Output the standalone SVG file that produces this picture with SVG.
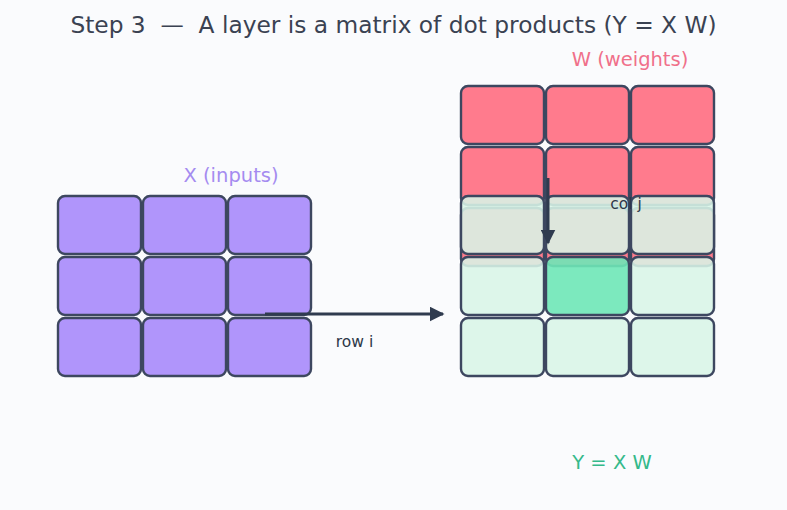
<svg xmlns="http://www.w3.org/2000/svg" width="787" height="510" viewBox="0 0 787 510">
<defs>
<style>
text{font-family:"DejaVu Sans","Liberation Sans",sans-serif;white-space:pre;}
.cell{stroke:#3d4760;stroke-width:2.4;}
.x{fill:#b095fb;}
.w{fill:#ff7b8d;}
.y{fill:#d8f5e7;fill-opacity:0.88;}
.yh{fill:#6ee7b7;fill-opacity:0.9;}
.lbl{font-size:19.5px;text-anchor:middle;}
.small{font-size:15.5px;fill:#2d3748;text-anchor:middle;}
.conn{stroke:#2f3b4f;stroke-width:3;fill:none;}
</style>
<marker id="ah" viewBox="0 0 10 10" refX="9" refY="5" markerWidth="5" markerHeight="5" orient="auto" markerUnits="strokeWidth">
<path d="M0,0 L10,5 L0,10 z" fill="#2f3b4f"/>
</marker>
</defs>
<rect width="787" height="510" fill="#fafbfd"/>
<text x="393.5" y="32.5" font-size="23.3" fill="#3a4252" text-anchor="middle" xml:space="preserve">Step 3  —  A layer is a matrix of dot products (Y = X W)</text>
<text class="lbl" x="630" y="66" fill="#f0708a">W (weights)</text>
<text class="lbl" x="231" y="182" fill="#a58bf0">X (inputs)</text>
<text class="lbl" x="612" y="469" fill="#34b98a">Y = X W</text>
<g id="X">
<rect class="cell x" x="58" y="196" width="83" height="58" rx="7"/>
<rect class="cell x" x="143" y="196" width="83" height="58" rx="7"/>
<rect class="cell x" x="228" y="196" width="83" height="58" rx="7"/>
<rect class="cell x" x="58" y="257" width="83" height="58" rx="7"/>
<rect class="cell x" x="143" y="257" width="83" height="58" rx="7"/>
<rect class="cell x" x="228" y="257" width="83" height="58" rx="7"/>
<rect class="cell x" x="58" y="318" width="83" height="58" rx="7"/>
<rect class="cell x" x="143" y="318" width="83" height="58" rx="7"/>
<rect class="cell x" x="228" y="318" width="83" height="58" rx="7"/>
</g>
<g id="W">
<rect class="cell w" x="461" y="86" width="83" height="58" rx="7"/>
<rect class="cell w" x="546" y="86" width="83" height="58" rx="7"/>
<rect class="cell w" x="631" y="86" width="83" height="58" rx="7"/>
<rect class="cell w" x="461" y="147" width="83" height="58" rx="7"/>
<rect class="cell w" x="546" y="147" width="83" height="58" rx="7"/>
<rect class="cell w" x="631" y="147" width="83" height="58" rx="7"/>
<rect class="cell w" x="461" y="208" width="83" height="58" rx="7"/>
<rect class="cell w" x="546" y="208" width="83" height="58" rx="7"/>
<rect class="cell w" x="631" y="208" width="83" height="58" rx="7"/>
</g>
<g id="Y">
<rect class="cell y" x="461" y="196" width="83" height="58" rx="7"/>
<rect class="cell y" x="546" y="196" width="83" height="58" rx="7"/>
<rect class="cell y" x="631" y="196" width="83" height="58" rx="7"/>
<rect class="cell y" x="461" y="257" width="83" height="58" rx="7"/>
<rect class="cell yh" x="546" y="257" width="83" height="58" rx="7"/>
<rect class="cell y" x="631" y="257" width="83" height="58" rx="7"/>
<rect class="cell y" x="461" y="318" width="83" height="58" rx="7"/>
<rect class="cell y" x="546" y="318" width="83" height="58" rx="7"/>
<rect class="cell y" x="631" y="318" width="83" height="58" rx="7"/>
</g>
<g id="connectors">
<line class="conn" x1="265" y1="314" x2="443" y2="314" marker-end="url(#ah)"/>
<line class="conn" x1="548" y1="178" x2="548" y2="243" marker-end="url(#ah)"/>
</g>
<text class="small" x="354.5" y="347">row i</text>
<text class="small" x="626" y="209">col j</text>
</svg>
